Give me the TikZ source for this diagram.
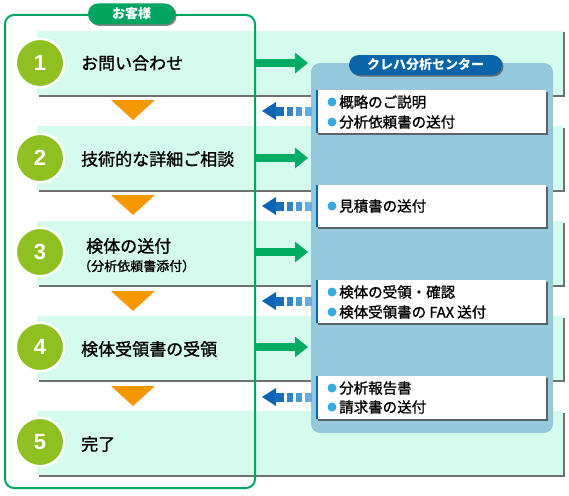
\documentclass[tikz,border=0pt]{standalone}
\usepackage{fontspec}
\setmainfont{Liberation Sans}
\newfontfamily\jp{Noto Sans CJK JP}
\newfontfamily\jpm[FakeBold=1.2]{Noto Sans CJK JP}
\usetikzlibrary{arrows.meta,shadows}
\definecolor{mint}{RGB}{212,251,238}
\definecolor{custgreen}{RGB}{0,166,96}
\definecolor{arrowgreen}{RGB}{0,172,100}
\definecolor{numgreen}{RGB}{142,192,34}
\definecolor{orng}{RGB}{243,152,0}
\definecolor{panelc}{RGB}{148,200,220}
\definecolor{pillblue}{RGB}{10,100,170}
\definecolor{bulletc}{RGB}{56,170,226}
\definecolor{darkblue}{RGB}{14,100,180}
\definecolor{lightblue}{RGB}{120,185,228}
\tikzset{
  band/.style={fill=mint, minimum width=526pt, minimum height=64pt, inner sep=0pt,
    drop shadow={shadow xshift=1.5pt, shadow yshift=-1.5pt, fill=black!70, opacity=.8}},
  pill/.style={rounded corners=10pt, minimum width=87pt, minimum height=21pt, inner sep=0pt,
    text=white, font=\jp\bfseries\fontsize{13}{15}\selectfont,
    drop shadow={shadow xshift=1.5pt, shadow yshift=-1.5pt, fill=black!70, opacity=.7}},
  panelbox/.style={fill=panelc, rounded corners=9pt, minimum width=242pt, minimum height=370pt, inner sep=0pt},
  notebox/.style={fill=white, minimum width=230pt, inner sep=0pt,
    drop shadow={shadow xshift=1.5pt, shadow yshift=-1.5pt, fill=black!70, opacity=.8}},
  numcirc/.style={circle, fill=numgreen, draw=white, line width=2.5pt, minimum size=48.5pt, inner sep=0pt,
    text=white, font=\bfseries\fontsize{22}{24}\selectfont},
  steptext/.style={anchor=west, inner sep=0pt, font=\jpm\fontsize{17}{20}\selectfont},
  subtext/.style={anchor=west, inner sep=0pt, font=\jpm\fontsize{13}{15}\selectfont},
  notetext/.style={anchor=west, inner sep=0pt, font=\jpm\fontsize{14.5}{16}\selectfont},
  garrow/.style={draw=arrowgreen, line width=8pt, -{Triangle[length=13pt,width=20pt]}},
}
\newcommand\myBlueArrow[1]{%
  \fill[darkblue] (262,#1) -- (276,#1-9) -- (276,#1+9) -- cycle;
  \fill[darkblue!90!lightblue] (275,#1-4.5) rectangle (284,#1+4.5);
  \fill[darkblue!65!lightblue] (287,#1-4.5) rectangle (293,#1+4.5);
  \fill[darkblue!40!lightblue] (296,#1-4.5) rectangle (302,#1+4.5);
  \fill[darkblue!15!lightblue] (305,#1-4.5) rectangle (312,#1+4.5);
}
\begin{document}
\begin{tikzpicture}[x=1pt,y=-1pt]
\useasboundingbox (0,0) rectangle (569,495);
% step bands
\foreach \i/\c in {1/63,2/158,3/253,4/348,5/443}
  \node[band] (band\i) at (300,\c) {};
% orange triangles
\foreach \t in {100,195,291,386}
  \fill[orng] (111,\t) -- (155,\t) -- (133,\t+20) -- cycle;
% customer outline
\draw[custgreen, line width=2pt, rounded corners=9pt] (5,15) rectangle (255,488);
\node[pill, fill=custgreen] (cust) at (131.5,14) {お客様};
% center panel
\node[panelbox] (center) at (432,248) {};
\node[pill, fill=pillblue, minimum width=153pt, minimum height=20pt] (kureha) at (425.5,65) {クレハ分析センター};
% notes
\node[notebox, minimum height=43pt] (note1) at (431,111.5) {};
\node[notebox, minimum height=42pt] (note2) at (431,206) {};
\node[notebox, minimum height=43pt] (note3) at (431,301.5) {};
\node[notebox, minimum height=43pt] (note4) at (431,397.5) {};
\foreach \n in {note1,note2,note3,note4}
  \draw[darkblue, line width=2.5pt] ([xshift=1.25pt]\n.north west) -- ([xshift=1.25pt]\n.south west);
\foreach \y in {102,122,206,292,312,388,407}
  \fill[bulletc] (332,\y) circle (4.5pt);
\node[notetext] (n1a) at (339,102) {概略のご説明};
\node[notetext] (n1b) at (339,122) {分析依頼書の送付};
\node[notetext] (n2a) at (339,206) {見積書の送付};
\node[notetext] (n3a) at (339,292) {検体の受領・確認};
\node[notetext] (n3b) at (339,312) {検体受領書の FAX 送付};
\node[notetext] (n4a) at (339,388) {分析報告書};
\node[notetext] (n4b) at (339,407) {請求書の送付};
% green arrows
\foreach \i/\y in {1/63,2/158,3/252,4/347} {
  \coordinate (gs\i) at (256,\y);
  \coordinate (ge\i) at (308,\y);
  \draw[garrow] (gs\i) -- (ge\i);
}
% blue dashed arrows
\myBlueArrow{111}
\myBlueArrow{206}
\myBlueArrow{301}
\myBlueArrow{397}
% numbers
\node[numcirc] (c1) at (40,63) {1};
\node[numcirc] (c2) at (40,158) {2};
\node[numcirc] (c3) at (40,252) {3};
\node[numcirc] (c4) at (40,347) {4};
\node[numcirc] (c5) at (40,442) {5};
% step texts
\node[steptext] (t1) at (81,63) {お問い合わせ};
\node[steptext] (t2) at (81,159) {技術的な詳細ご相談};
\node[steptext] (t3) at (86,246) {検体の送付};
\node[subtext] (t3b) at (78,266) {（分析依頼書添付）};
\node[steptext] (t4) at (81,349) {検体受領書の受領};
\node[steptext] (t5) at (81,444) {完了};
\end{tikzpicture}
\end{document}
